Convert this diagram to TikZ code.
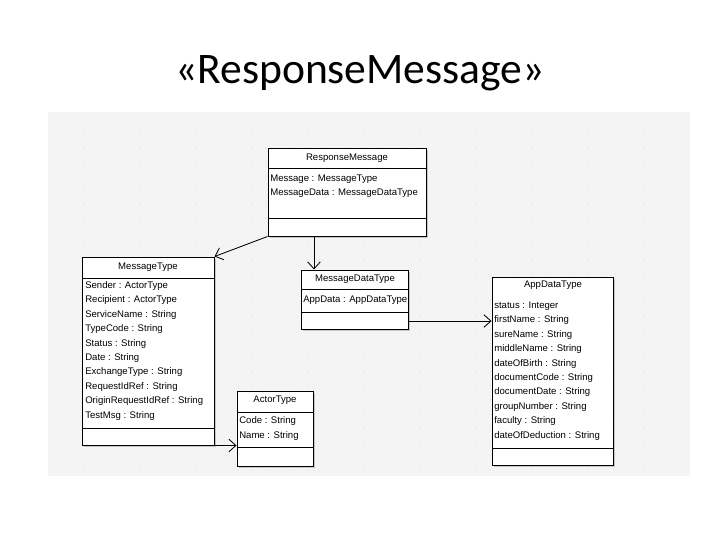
\documentclass[tikz,border=0pt]{standalone}
\usepackage{fontspec}
\setmainfont{Liberation Sans}
\newfontfamily\titlefont{Carlito}
\usetikzlibrary{arrows.meta,fit,shadows}

\tikzset{
  classbox/.style={draw=black, fill=white, line width=0.7pt, inner sep=0pt,
    general shadow={fill=gray!45, shadow xshift=1.3pt, shadow yshift=-1.3pt}},
  cname/.style={inner sep=0pt, font=\fontsize{6.8}{8}\selectfont},
  attr/.style={anchor=base west, inner sep=0pt, font=\fontsize{6.8}{8}\selectfont},
  sep/.style={line width=0.7pt},
  link/.style={line width=0.6pt, -{Straight Barb[length=5pt,width=9pt]}},
}

\begin{document}
\begin{tikzpicture}[x=0.025cm, y=-0.025cm]
    \useasboundingbox (0,0) rectangle (720,540);

    % title
    \node (title) at (360,73) {\titlefont\fontsize{31}{33}\selectfont «ResponseMessage»};

    % grey canvas with dots
    \fill[gray!9] (48,112) rectangle (690,476);
    \foreach \x in {56,70,...,686}
        \foreach \y in {120,134,...,470}
            \fill[gray!30] (\x,\y) circle (0.7);

    % ResponseMessage
    \node[classbox, fit={(268,148) (426,236)}] (resp) {};
    \draw[sep] (268,168) -- (426,168);
    \draw[sep] (268,218) -- (426,218);
    \node[cname] (resp-name) at (347,158) {ResponseMessage};
    \node[attr] (resp-1) at (270,181) {Message : MessageType};
    \node[attr] (resp-2) at (270,195) {MessageData : MessageDataType};

    % MessageType
    \node[classbox, fit={(82,257) (214,445)}] (msgtype) {};
    \draw[sep] (82,278) -- (214,278);
    \draw[sep] (82,428) -- (214,428);
    \node[cname] (msgtype-name) at (148,267) {MessageType};
    \foreach \t [count=\i] in {Sender : ActorType, Recipient : ActorType,
        ServiceName : String, TypeCode : String, Status : String, Date : String,
        ExchangeType : String, RequestIdRef : String,
        OriginRequestIdRef : String, TestMsg : String}
        \node[attr] (msgtype-\i) at (85,288.5+14.4*\i-14.4) {\t};

    % MessageDataType
    \node[classbox, fit={(301,270) (408,329)}] (msgdata) {};
    \draw[sep] (301,289) -- (408,289);
    \draw[sep] (301,312) -- (408,312);
    \node[cname] (msgdata-name) at (355,279) {MessageDataType};
    \node[attr] (msgdata-1) at (303,302) {AppData : AppDataType};

    % ActorType
    \node[classbox, fit={(237,391) (313,466)}] (actor) {};
    \draw[sep] (237,412) -- (313,412);
    \draw[sep] (237,447) -- (313,447);
    \node[cname] (actor-name) at (275,400) {ActorType};
    \node[attr] (actor-1) at (239,423) {Code : String};
    \node[attr] (actor-2) at (239,438) {Name : String};

    % AppDataType
    \node[classbox, fit={(492,277) (613,465)}] (appdata) {};
    \draw[sep] (492,448) -- (613,448);
    \node[cname] (appdata-name) at (553,285) {AppDataType};
    \foreach \t [count=\i] in {status : Integer, firstName : String,
        sureName : String, middleName : String, dateOfBirth : String,
        documentCode : String, documentDate : String, groupNumber : String,
        faculty : String, dateOfDeduction : String}
        \node[attr] (appdata-\i) at (494,308.5+14.4*\i-14.4) {\t};

    % links
    \coordinate (rm-out) at (314,236);
    \coordinate (md-out) at (408,321);
    \draw[link] (resp.south west) -- (msgtype.north east);
    \draw[link] (rm-out) -- (rm-out |- msgdata.north);
    \draw[link] (md-out) -- (md-out -| appdata.west);
    \draw[link] (msgtype.south east) -- (msgtype.south east -| actor.west);
\end{tikzpicture}
\end{document}
